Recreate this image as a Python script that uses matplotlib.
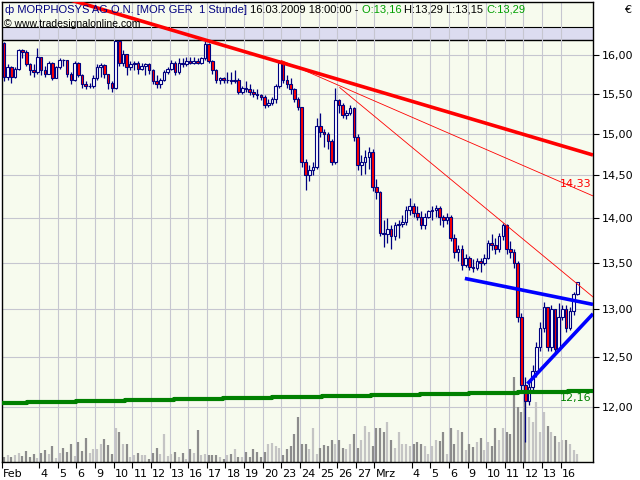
import numpy as np
import matplotlib
matplotlib.use('Agg')
import matplotlib.pyplot as plt
from matplotlib.ticker import NullLocator, NullFormatter
from matplotlib.transforms import blended_transform_factory, ScaledTranslation

# MORPHOSYS bars, 5 per trading day, 02.02.2009 - 16.03.2009
first_open = 16.16
closes = [
    15.72, 15.84, 15.72, 15.82, 16.06,
    16.04, 15.88, 15.80, 15.78, 15.98,
    15.80, 15.76, 15.90, 15.70, 15.84,
    15.94, 15.93, 15.76, 15.68, 15.90,
    15.74, 15.62, 15.60, 15.60, 15.70,
    15.84, 15.87, 15.75, 15.64, 15.58,
    16.18, 15.90, 16.02, 15.84, 15.88,
    15.90, 15.82, 15.86, 15.88, 15.80,
    15.66, 15.62, 15.68, 15.78, 15.82,
    15.90, 15.78, 15.90, 15.88, 15.92,
    15.90, 15.92, 15.90, 15.96, 16.14,
    15.92, 15.80, 15.68, 15.70, 15.68,
    15.68, 15.66, 15.68, 15.52, 15.58,
    15.56, 15.52, 15.50, 15.48, 15.46,
    15.36, 15.38, 15.44, 15.60, 15.90,
    15.68, 15.62, 15.56, 15.44, 15.34,
    14.66, 14.50, 14.56, 14.60, 15.10,
    15.02, 15.00, 14.92, 14.66, 15.42,
    15.36, 15.24, 15.26, 15.32, 14.96,
    14.62, 14.66, 14.72, 14.78, 14.36,
    14.30, 13.84, 13.82, 13.88, 13.80,
    13.92, 13.94, 13.96, 14.10, 14.14,
    14.06, 14.02, 13.92, 14.02, 14.08,
    14.10, 14.12, 14.02, 13.98, 14.02,
    13.78, 13.62, 13.66, 13.48, 13.56,
    13.46, 13.44, 13.52, 13.50, 13.56,
    13.72, 13.70, 13.66, 13.80, 13.92,
    13.66, 13.62, 13.50, 12.92, 12.22,
    12.06, 12.20, 12.36, 12.60, 12.80,
    13.02, 12.60, 13.00, 12.58, 12.92,
    13.00, 12.80, 12.98, 13.16, 13.29,
]
highs = [
    16.17, 15.88, 15.86, 15.85, 16.08,
    16.08, 16.06, 15.90, 15.88, 16.09,
    15.98, 15.86, 15.92, 15.91, 15.86,
    15.96, 15.95, 15.94, 15.78, 15.92,
    15.91, 15.76, 15.66, 15.64, 15.74,
    15.88, 15.90, 15.88, 15.76, 15.66,
    16.20, 16.20, 16.06, 16.02, 15.92,
    15.92, 15.92, 15.90, 15.90, 15.90,
    15.82, 15.74, 15.70, 15.80, 15.84,
    15.93, 15.92, 15.96, 15.96, 15.98,
    15.98, 15.98, 15.96, 15.98, 16.18,
    16.16, 15.94, 15.82, 15.72, 15.72,
    15.78, 15.78, 15.80, 15.70, 15.60,
    15.66, 15.62, 15.56, 15.56, 15.50,
    15.48, 15.44, 15.46, 15.62, 15.93,
    15.92, 15.74, 15.70, 15.58, 15.46,
    15.34, 14.70, 14.62, 14.66, 15.20,
    15.26, 15.06, 15.02, 14.94, 15.58,
    15.44, 15.38, 15.30, 15.36, 15.34,
    15.00, 14.74, 14.80, 14.84, 14.82,
    14.46, 14.32, 13.98, 14.00, 13.92,
    13.96, 13.98, 14.04, 14.14, 14.24,
    14.18, 14.14, 14.08, 14.06, 14.10,
    14.14, 14.16, 14.14, 14.04, 14.06,
    14.04, 13.82, 13.70, 13.70, 13.60,
    13.58, 13.54, 13.56, 13.56, 13.60,
    13.76, 13.82, 13.78, 13.84, 13.95,
    13.94, 13.74, 13.66, 13.52, 12.96,
    12.30, 12.26, 12.42, 12.66, 12.86,
    13.08, 13.00, 13.04, 12.94, 13.06,
    13.04, 13.04, 13.02, 13.18, 13.29,
]
lows = [
    15.66, 15.68, 15.64, 15.70, 15.80,
    15.96, 15.86, 15.74, 15.72, 15.76,
    15.74, 15.72, 15.76, 15.68, 15.70,
    15.82, 15.86, 15.72, 15.62, 15.66,
    15.72, 15.58, 15.56, 15.58, 15.58,
    15.68, 15.72, 15.70, 15.56, 15.52,
    15.56, 15.86, 15.86, 15.74, 15.80,
    15.80, 15.76, 15.80, 15.74, 15.76,
    15.62, 15.58, 15.58, 15.66, 15.76,
    15.80, 15.74, 15.76, 15.84, 15.86,
    15.88, 15.88, 15.88, 15.88, 15.94,
    15.90, 15.76, 15.64, 15.62, 15.64,
    15.64, 15.62, 15.64, 15.50, 15.50,
    15.52, 15.48, 15.46, 15.44, 15.42,
    15.32, 15.34, 15.36, 15.38, 15.58,
    15.64, 15.58, 15.50, 15.40, 15.30,
    14.60, 14.33, 14.44, 14.50, 14.58,
    14.96, 14.84, 14.82, 14.62, 14.64,
    15.26, 15.20, 15.18, 15.24, 14.92,
    14.56, 14.50, 14.52, 14.58, 14.32,
    14.22, 13.80, 13.68, 13.72, 13.66,
    13.76, 13.78, 13.90, 13.92, 14.04,
    14.02, 13.98, 13.88, 13.88, 14.00,
    13.98, 14.02, 13.92, 13.90, 13.94,
    13.74, 13.56, 13.52, 13.42, 13.46,
    13.42, 13.40, 13.42, 13.40, 13.48,
    13.54, 13.64, 13.60, 13.62, 13.76,
    13.60, 13.56, 13.44, 12.86, 12.14,
    11.66, 12.02, 12.14, 12.30, 12.56,
    12.76, 12.56, 12.56, 12.54, 12.56,
    12.88, 12.76, 12.78, 12.94, 13.15,
]
# volume in thousand shares
volume = [
    5, 7, 5, 7, 9,
    6, 11, 5, 8, 4,
    9, 12, 8, 16, 4,
    9, 14, 10, 18, 6,
    20, 11, 24, 9, 13,
    13, 18, 23, 17, 8,
    34, 30, 18, 18, 5,
    7, 9, 7, 7, 3,
    9, 14, 8, 28, 6,
    8, 10, 5, 9, 3,
    13, 9, 32, 7, 8,
    7, 7, 7, 5, 3,
    7, 8, 13, 5, 5,
    10, 5, 13, 10, 5,
    10, 18, 19, 16, 14,
    7, 13, 16, 28, 45,
    18, 18, 13, 34, 8,
    14, 17, 16, 22, 18,
    22, 14, 13, 18, 28,
    14, 22, 36, 30, 16,
    34, 34, 30, 40, 22,
    14, 30, 18, 18, 16,
    18, 20, 18, 16, 8,
    16, 22, 21, 30, 8,
    34, 18, 32, 30, 12,
    18, 15, 20, 24, 12,
    20, 16, 34, 22, 34,
    30, 28, 85, 55, 50,
    65, 45, 40, 60, 30,
    50, 36, 30, 26, 20,
    22, 22, 18, 12, 8,
]
bars_per_day = 5
day_labels = ['Feb', '', '4', '5', '6', '9', '10', '11', '12', '13', '16', '17', '18',
              '19', '20', '23', '24', '25', '26', '27', 'Mrz', '', '4', '5', '6', '9',
              '10', '11', '12', '13', '16']

# drawn trend lines: (bar index, price) end points
red_main = ([13.7, 158.2], [16.80, 14.745])
red_thin1 = ([74.5, 158.2], [15.93, 14.26])
red_thin2 = ([90.2, 158.2], [15.58, 13.13])
blue_upper = ([123.8, 158.2], [13.33, 13.05])
blue_lower = ([140.6, 158.2], [12.23, 12.95])
green_x = [-0.5, 6.2, 19.4, 32.5, 45.7, 58.8, 72.0, 85.4, 98.6, 111.7, 124.9, 138.1, 151.5, 158.2]
green_y = [12.04, 12.05, 12.06, 12.07, 12.08, 12.09, 12.10, 12.11, 12.12, 12.13, 12.14, 12.15, 12.16, 12.16]
red_thin1_label = '14,33'
green_label = '12,16'
band = (16.20, 16.37)

title_parts = [('\u0444 MORPHOSYS AG O.N. [MOR GER  1 Stunde] ', '#000080'),
               ('16.03.2009 18:00:00 - ', 'black'),
               ('O:13,16 ', '#00a000'),
               ('H:13,29 L:13,15 ', 'black'),
               ('C:13,29', '#00a000')]

navy = '#000080'
c = np.array(closes)
o = np.array([first_open] + closes[:-1])
h = np.maximum(np.array(highs), np.maximum(o, c))
l = np.minimum(np.array(lows), np.minimum(o, c))
v = np.array(volume, dtype=float)
x = np.arange(len(c))
up = c >= o
xmax = 158.2

fig = plt.figure(figsize=(6.4, 4.8), dpi=100, facecolor='white')
ax = fig.add_axes([2/640, 18/480, 591/640, 460/480])
ax.set_facecolor('#f7fbee')
ax.set_yscale('log')
ax.set_xlim(-0.5, xmax)
ax.set_ylim(11.473, 16.709)

# lavender band at the top
ax.axhspan(band[0], band[1], color='#dcdcf0', zorder=0.1, lw=0)
ax.axhline(band[0], color='black', lw=1, zorder=0.2)
ax.axhline(band[1], color='black', lw=0.8, zorder=0.2)

# grid
yt = [12, 12.5, 13, 13.5, 14, 14.5, 15, 15.5, 16]
day_starts = np.arange(len(day_labels)) * bars_per_day - 0.5
lab_pos = [d for d, s in zip(day_starts, day_labels) if s]
lab_txt = [s for s in day_labels if s]
for yv in yt:
    ax.axhline(yv, color='#c6c6d0', lw=0.8, zorder=0.3)
for xv in lab_pos[1:]:
    ax.axvline(xv, color='#c6c6d0', lw=0.8, zorder=0.3)

# volume at the bottom (460 px tall axes -> 1 unit per px)
vtrans = blended_transform_factory(ax.transData, ax.transAxes)
vcol = np.where(up, '#c4c4c4', '#8c8c8c')
ax.vlines(x, 0, v / 460.0, colors=vcol, lw=1.6, transform=vtrans, zorder=1)

# candles
ax.vlines(x, l, h, color=navy, lw=0.9, zorder=3)
ax.bar(x[up], (c - o)[up], bottom=o[up], width=0.7, facecolor='white',
       edgecolor=navy, lw=0.8, zorder=4)
ax.bar(x[~up], (o - c)[~up], bottom=c[~up], width=0.7, facecolor='#ff0000',
       edgecolor=navy, lw=0.8, zorder=4)

# trend lines
ax.plot(*red_main, color='#ff0000', lw=2.6, zorder=6, solid_capstyle='butt')
ax.plot(*red_thin1, color='#ff0000', lw=0.6, zorder=6)
ax.plot(*red_thin2, color='#ff0000', lw=0.6, zorder=6)
ax.plot(*blue_upper, color='#0000ff', lw=2.6, zorder=6, solid_capstyle='butt')
ax.plot(*blue_lower, color='#0000ff', lw=2.6, zorder=6, solid_capstyle='butt')
ax.step(green_x, green_y, where='post', color='#008000', lw=3, zorder=5)

ax.annotate(red_thin1_label, (xmax - 0.3, 14.33), xytext=(0, 4), textcoords='offset points',
            ha='right', va='center', color='#ff0000', fontsize=8, zorder=7)
ax.annotate(green_label, (xmax - 0.3, green_y[-1]), xytext=(0, -5), textcoords='offset points',
            ha='right', va='center', color='#008000', fontsize=8, zorder=7)

# axes
ax.yaxis.tick_right()
ax.set_yticks(yt)
ax.set_yticklabels([('%.2f' % t).replace('.', ',') for t in yt])
ax.yaxis.set_minor_locator(NullLocator())
ax.yaxis.set_minor_formatter(NullFormatter())
ax.tick_params(axis='y', direction='out', length=4, width=0.8, pad=2, labelsize=8)
ax.set_xticks(lab_pos)
ax.set_xticklabels(lab_txt)
ax.tick_params(axis='x', direction='out', length=4, width=0.8, pad=1, labelsize=8)
shift = ScaledTranslation(0.8/72, 0, fig.dpi_scale_trans)
for t in ax.get_xticklabels():
    t.set_ha('left')
    t.set_transform(t.get_transform() + shift)
for sp in ax.spines.values():
    sp.set_color('black')
    sp.set_linewidth(1)

fig.text(628/640, 1 - 10/480, '\u20ac', fontsize=8, ha='center', va='center')

# header text
renderer = fig.canvas.get_renderer()
xpos = 5
for s, col in title_parts:
    t = fig.text(xpos/640, 1 - 10/480, s, color=col, fontsize=8, ha='left', va='center',
                 family='Liberation Sans')
    xpos += t.get_window_extent(renderer).width
fig.text(4/640, 1 - 24/480, '\u00a9 www.tradesignalonline.com', fontsize=7.5,
         ha='left', va='center', family='Liberation Sans')

fig.savefig('out.png', dpi=100, facecolor='white')
